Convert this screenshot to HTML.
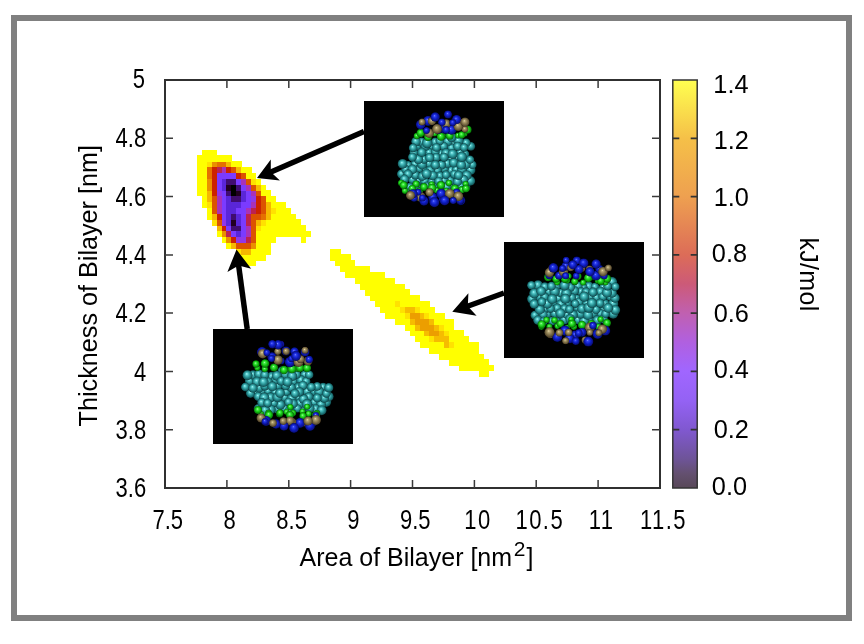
<!DOCTYPE html><html><head><meta charset="utf-8"><style>html,body{margin:0;padding:0;background:#fff;}body{width:864px;height:644px;overflow:hidden;position:relative;}#frame{position:absolute;left:11px;top:15px;width:841px;height:606px;box-sizing:border-box;border:6px solid #808080;}svg{position:absolute;left:0;top:0;will-change:transform;}text{font-family:"Liberation Sans",sans-serif;}</style></head><body><div id="frame"></div><svg width="864" height="644" viewBox="0 0 864 644"><filter id="hb" x="-5%" y="-5%" width="110%" height="110%"><feGaussianBlur stdDeviation="0.45"/></filter><g shape-rendering="crispEdges" filter="url(#hb)"><rect x="478.93" y="371.03" width="10.20" height="6.13" fill="#ffff00"/><rect x="459.13" y="365.20" width="34.95" height="6.13" fill="#ffff00"/><rect x="449.23" y="359.37" width="39.90" height="6.13" fill="#ffff00"/><rect x="439.33" y="353.54" width="44.85" height="6.13" fill="#ffff00"/><rect x="429.43" y="347.71" width="49.80" height="6.13" fill="#ffff00"/><rect x="419.53" y="341.89" width="25.05" height="6.13" fill="#ffff00"/><rect x="444.27" y="341.89" width="5.25" height="6.13" fill="#f6bc00"/><rect x="449.23" y="341.89" width="5.25" height="6.13" fill="#ffe200"/><rect x="454.18" y="341.89" width="25.05" height="6.13" fill="#ffff00"/><rect x="414.57" y="336.06" width="15.15" height="6.13" fill="#ffff00"/><rect x="429.43" y="336.06" width="5.25" height="6.13" fill="#ffe200"/><rect x="434.38" y="336.06" width="15.15" height="6.13" fill="#f6bc00"/><rect x="449.23" y="336.06" width="20.10" height="6.13" fill="#ffff00"/><rect x="409.63" y="330.23" width="15.15" height="6.13" fill="#ffff00"/><rect x="424.47" y="330.23" width="5.25" height="6.13" fill="#f6bc00"/><rect x="429.43" y="330.23" width="10.20" height="6.13" fill="#ec9e00"/><rect x="439.33" y="330.23" width="5.25" height="6.13" fill="#f6bc00"/><rect x="444.27" y="330.23" width="5.25" height="6.13" fill="#ffe200"/><rect x="449.23" y="330.23" width="15.15" height="6.13" fill="#ffff00"/><rect x="404.67" y="324.40" width="10.20" height="6.13" fill="#ffff00"/><rect x="414.57" y="324.40" width="5.25" height="6.13" fill="#f6bc00"/><rect x="419.53" y="324.40" width="15.15" height="6.13" fill="#ec9e00"/><rect x="434.38" y="324.40" width="5.25" height="6.13" fill="#f6bc00"/><rect x="439.33" y="324.40" width="5.25" height="6.13" fill="#ffe200"/><rect x="444.27" y="324.40" width="10.20" height="6.13" fill="#ffff00"/><rect x="394.77" y="318.57" width="15.15" height="6.13" fill="#ffff00"/><rect x="409.63" y="318.57" width="5.25" height="6.13" fill="#f6bc00"/><rect x="414.57" y="318.57" width="15.15" height="6.13" fill="#ec9e00"/><rect x="429.43" y="318.57" width="5.25" height="6.13" fill="#f6bc00"/><rect x="434.38" y="318.57" width="20.10" height="6.13" fill="#ffff00"/><rect x="384.87" y="312.74" width="20.10" height="6.13" fill="#ffff00"/><rect x="404.67" y="312.74" width="5.25" height="6.13" fill="#ffe200"/><rect x="409.63" y="312.74" width="10.20" height="6.13" fill="#ec9e00"/><rect x="419.53" y="312.74" width="5.25" height="6.13" fill="#f6bc00"/><rect x="424.47" y="312.74" width="5.25" height="6.13" fill="#ffe200"/><rect x="429.43" y="312.74" width="15.15" height="6.13" fill="#ffff00"/><rect x="379.93" y="306.91" width="20.10" height="6.13" fill="#ffff00"/><rect x="399.73" y="306.91" width="5.25" height="6.13" fill="#ffe200"/><rect x="404.67" y="306.91" width="10.20" height="6.13" fill="#f6bc00"/><rect x="414.57" y="306.91" width="5.25" height="6.13" fill="#ffe200"/><rect x="419.53" y="306.91" width="15.15" height="6.13" fill="#ffff00"/><rect x="374.98" y="301.09" width="20.10" height="6.13" fill="#ffff00"/><rect x="394.77" y="301.09" width="5.25" height="6.13" fill="#ffe200"/><rect x="399.73" y="301.09" width="30.00" height="6.13" fill="#ffff00"/><rect x="370.03" y="295.26" width="49.80" height="6.13" fill="#ffff00"/><rect x="365.08" y="289.43" width="44.85" height="6.13" fill="#ffff00"/><rect x="360.12" y="283.60" width="44.85" height="6.13" fill="#ffff00"/><rect x="355.18" y="277.77" width="39.90" height="6.13" fill="#ffff00"/><rect x="345.28" y="271.94" width="39.90" height="6.13" fill="#ffff00"/><rect x="340.33" y="266.11" width="30.00" height="6.13" fill="#ffff00"/><rect x="241.33" y="260.29" width="15.15" height="6.13" fill="#ffff00"/><rect x="335.38" y="260.29" width="20.10" height="6.13" fill="#ffff00"/><rect x="236.38" y="254.46" width="30.00" height="6.13" fill="#ffff00"/><rect x="330.43" y="254.46" width="20.10" height="6.13" fill="#ffff00"/><rect x="236.38" y="248.63" width="5.25" height="6.13" fill="#ffe200"/><rect x="241.33" y="248.63" width="10.20" height="6.13" fill="#f6b800"/><rect x="251.22" y="248.63" width="20.10" height="6.13" fill="#ffff00"/><rect x="330.43" y="248.63" width="10.20" height="6.13" fill="#ffff00"/><rect x="226.47" y="242.80" width="5.25" height="6.13" fill="#ffff00"/><rect x="231.43" y="242.80" width="5.25" height="6.13" fill="#f6b800"/><rect x="236.38" y="242.80" width="15.15" height="6.13" fill="#dc5200"/><rect x="251.22" y="242.80" width="5.25" height="6.13" fill="#ea9000"/><rect x="256.18" y="242.80" width="15.15" height="6.13" fill="#ffff00"/><rect x="221.53" y="236.97" width="5.25" height="6.13" fill="#ffff00"/><rect x="226.47" y="236.97" width="5.25" height="6.13" fill="#ea9000"/><rect x="231.43" y="236.97" width="5.25" height="6.13" fill="#cc2200"/><rect x="236.38" y="236.97" width="10.20" height="6.13" fill="#9038e8"/><rect x="246.28" y="236.97" width="5.25" height="6.13" fill="#bc2050"/><rect x="251.22" y="236.97" width="5.25" height="6.13" fill="#dc5200"/><rect x="256.18" y="236.97" width="20.10" height="6.13" fill="#ffff00"/><rect x="300.72" y="236.97" width="5.25" height="6.13" fill="#ffff00"/><rect x="216.57" y="231.14" width="5.25" height="6.13" fill="#ffff00"/><rect x="221.53" y="231.14" width="5.25" height="6.13" fill="#ea9000"/><rect x="226.47" y="231.14" width="5.25" height="6.13" fill="#bc2050"/><rect x="231.43" y="231.14" width="5.25" height="6.13" fill="#7a3aff"/><rect x="236.38" y="231.14" width="5.25" height="6.13" fill="#5a28d8"/><rect x="241.33" y="231.14" width="5.25" height="6.13" fill="#7a3aff"/><rect x="246.28" y="231.14" width="5.25" height="6.13" fill="#a830b8"/><rect x="251.22" y="231.14" width="5.25" height="6.13" fill="#dc5200"/><rect x="256.18" y="231.14" width="54.75" height="6.13" fill="#ffff00"/><rect x="216.57" y="225.31" width="5.25" height="6.13" fill="#f6b800"/><rect x="221.53" y="225.31" width="5.25" height="6.13" fill="#cc2200"/><rect x="226.47" y="225.31" width="5.25" height="6.13" fill="#7a3aff"/><rect x="231.43" y="225.31" width="10.20" height="6.13" fill="#401070"/><rect x="241.33" y="225.31" width="5.25" height="6.13" fill="#7a3aff"/><rect x="246.28" y="225.31" width="5.25" height="6.13" fill="#a830b8"/><rect x="251.22" y="225.31" width="5.25" height="6.13" fill="#dc5200"/><rect x="256.18" y="225.31" width="5.25" height="6.13" fill="#ffe200"/><rect x="261.12" y="225.31" width="44.85" height="6.13" fill="#ffff00"/><rect x="211.62" y="219.49" width="5.25" height="6.13" fill="#ffe200"/><rect x="216.57" y="219.49" width="5.25" height="6.13" fill="#dc5200"/><rect x="221.53" y="219.49" width="5.25" height="6.13" fill="#9038e8"/><rect x="226.47" y="219.49" width="5.25" height="6.13" fill="#5a28d8"/><rect x="231.43" y="219.49" width="5.25" height="6.13" fill="#200020"/><rect x="236.38" y="219.49" width="5.25" height="6.13" fill="#5a28d8"/><rect x="241.33" y="219.49" width="5.25" height="6.13" fill="#7a3aff"/><rect x="246.28" y="219.49" width="5.25" height="6.13" fill="#bc2050"/><rect x="251.22" y="219.49" width="5.25" height="6.13" fill="#dc5200"/><rect x="256.18" y="219.49" width="5.25" height="6.13" fill="#f6b800"/><rect x="261.12" y="219.49" width="5.25" height="6.13" fill="#ffe200"/><rect x="266.08" y="219.49" width="34.95" height="6.13" fill="#ffff00"/><rect x="206.67" y="213.66" width="5.25" height="6.13" fill="#ffff00"/><rect x="211.62" y="213.66" width="5.25" height="6.13" fill="#f6b800"/><rect x="216.57" y="213.66" width="5.25" height="6.13" fill="#cc2200"/><rect x="221.53" y="213.66" width="5.25" height="6.13" fill="#7a3aff"/><rect x="226.47" y="213.66" width="5.25" height="6.13" fill="#5a28d8"/><rect x="231.43" y="213.66" width="5.25" height="6.13" fill="#401070"/><rect x="236.38" y="213.66" width="5.25" height="6.13" fill="#5a28d8"/><rect x="241.33" y="213.66" width="5.25" height="6.13" fill="#7a3aff"/><rect x="246.28" y="213.66" width="5.25" height="6.13" fill="#bc2050"/><rect x="251.22" y="213.66" width="10.20" height="6.13" fill="#dc5200"/><rect x="261.12" y="213.66" width="5.25" height="6.13" fill="#e57000"/><rect x="266.08" y="213.66" width="5.25" height="6.13" fill="#f6b800"/><rect x="271.02" y="213.66" width="25.05" height="6.13" fill="#ffff00"/><rect x="206.67" y="207.83" width="5.25" height="6.13" fill="#ffff00"/><rect x="211.62" y="207.83" width="5.25" height="6.13" fill="#dc5200"/><rect x="216.57" y="207.83" width="5.25" height="6.13" fill="#a830b8"/><rect x="221.53" y="207.83" width="5.25" height="6.13" fill="#7a3aff"/><rect x="226.47" y="207.83" width="10.20" height="6.13" fill="#5a28d8"/><rect x="236.38" y="207.83" width="10.20" height="6.13" fill="#7a3aff"/><rect x="246.28" y="207.83" width="5.25" height="6.13" fill="#a830b8"/><rect x="251.22" y="207.83" width="5.25" height="6.13" fill="#bc2050"/><rect x="256.18" y="207.83" width="5.25" height="6.13" fill="#cc2200"/><rect x="261.12" y="207.83" width="5.25" height="6.13" fill="#dc5200"/><rect x="266.08" y="207.83" width="5.25" height="6.13" fill="#f6b800"/><rect x="271.02" y="207.83" width="5.25" height="6.13" fill="#ffe200"/><rect x="275.98" y="207.83" width="15.15" height="6.13" fill="#ffff00"/><rect x="201.72" y="202.00" width="5.25" height="6.13" fill="#ffff00"/><rect x="206.67" y="202.00" width="5.25" height="6.13" fill="#ffe200"/><rect x="211.62" y="202.00" width="5.25" height="6.13" fill="#dc5200"/><rect x="216.57" y="202.00" width="5.25" height="6.13" fill="#a830b8"/><rect x="221.53" y="202.00" width="5.25" height="6.13" fill="#7a3aff"/><rect x="226.47" y="202.00" width="15.15" height="6.13" fill="#5a28d8"/><rect x="241.33" y="202.00" width="10.20" height="6.13" fill="#7a3aff"/><rect x="251.22" y="202.00" width="5.25" height="6.13" fill="#a830b8"/><rect x="256.18" y="202.00" width="5.25" height="6.13" fill="#cc2200"/><rect x="261.12" y="202.00" width="5.25" height="6.13" fill="#dc5200"/><rect x="266.08" y="202.00" width="5.25" height="6.13" fill="#f6b800"/><rect x="271.02" y="202.00" width="15.15" height="6.13" fill="#ffff00"/><rect x="201.72" y="196.17" width="5.25" height="6.13" fill="#ffff00"/><rect x="206.67" y="196.17" width="5.25" height="6.13" fill="#f6b800"/><rect x="211.62" y="196.17" width="5.25" height="6.13" fill="#dc5200"/><rect x="216.57" y="196.17" width="5.25" height="6.13" fill="#a830b8"/><rect x="221.53" y="196.17" width="5.25" height="6.13" fill="#7a3aff"/><rect x="226.47" y="196.17" width="5.25" height="6.13" fill="#5a28d8"/><rect x="231.43" y="196.17" width="10.20" height="6.13" fill="#401070"/><rect x="241.33" y="196.17" width="5.25" height="6.13" fill="#5a28d8"/><rect x="246.28" y="196.17" width="5.25" height="6.13" fill="#7a3aff"/><rect x="251.22" y="196.17" width="5.25" height="6.13" fill="#9038e8"/><rect x="256.18" y="196.17" width="5.25" height="6.13" fill="#cc2200"/><rect x="261.12" y="196.17" width="5.25" height="6.13" fill="#dc5200"/><rect x="266.08" y="196.17" width="10.20" height="6.13" fill="#ffff00"/><rect x="196.77" y="190.34" width="10.20" height="6.13" fill="#ffff00"/><rect x="206.67" y="190.34" width="5.25" height="6.13" fill="#f6b800"/><rect x="211.62" y="190.34" width="5.25" height="6.13" fill="#cc2200"/><rect x="216.57" y="190.34" width="5.25" height="6.13" fill="#9038e8"/><rect x="221.53" y="190.34" width="5.25" height="6.13" fill="#7a3aff"/><rect x="226.47" y="190.34" width="5.25" height="6.13" fill="#401070"/><rect x="231.43" y="190.34" width="5.25" height="6.13" fill="#000000"/><rect x="236.38" y="190.34" width="5.25" height="6.13" fill="#200020"/><rect x="241.33" y="190.34" width="5.25" height="6.13" fill="#5a28d8"/><rect x="246.28" y="190.34" width="5.25" height="6.13" fill="#7a3aff"/><rect x="251.22" y="190.34" width="5.25" height="6.13" fill="#a830b8"/><rect x="256.18" y="190.34" width="5.25" height="6.13" fill="#dc5200"/><rect x="261.12" y="190.34" width="10.20" height="6.13" fill="#ffff00"/><rect x="196.77" y="184.51" width="10.20" height="6.13" fill="#ffff00"/><rect x="206.67" y="184.51" width="5.25" height="6.13" fill="#ea9000"/><rect x="211.62" y="184.51" width="5.25" height="6.13" fill="#cc2200"/><rect x="216.57" y="184.51" width="5.25" height="6.13" fill="#7a3aff"/><rect x="221.53" y="184.51" width="5.25" height="6.13" fill="#5a28d8"/><rect x="226.47" y="184.51" width="5.25" height="6.13" fill="#200020"/><rect x="231.43" y="184.51" width="5.25" height="6.13" fill="#000000"/><rect x="236.38" y="184.51" width="5.25" height="6.13" fill="#401070"/><rect x="241.33" y="184.51" width="5.25" height="6.13" fill="#7a3aff"/><rect x="246.28" y="184.51" width="5.25" height="6.13" fill="#a830b8"/><rect x="251.22" y="184.51" width="5.25" height="6.13" fill="#dc5200"/><rect x="256.18" y="184.51" width="5.25" height="6.13" fill="#f6b800"/><rect x="261.12" y="184.51" width="5.25" height="6.13" fill="#ffff00"/><rect x="196.77" y="178.69" width="10.20" height="6.13" fill="#ffff00"/><rect x="206.67" y="178.69" width="5.25" height="6.13" fill="#ea9000"/><rect x="211.62" y="178.69" width="5.25" height="6.13" fill="#cc2200"/><rect x="216.57" y="178.69" width="5.25" height="6.13" fill="#7a3aff"/><rect x="221.53" y="178.69" width="5.25" height="6.13" fill="#5a28d8"/><rect x="226.47" y="178.69" width="10.20" height="6.13" fill="#401070"/><rect x="236.38" y="178.69" width="5.25" height="6.13" fill="#7a3aff"/><rect x="241.33" y="178.69" width="5.25" height="6.13" fill="#a830b8"/><rect x="246.28" y="178.69" width="5.25" height="6.13" fill="#dc5200"/><rect x="251.22" y="178.69" width="5.25" height="6.13" fill="#ffe200"/><rect x="256.18" y="178.69" width="5.25" height="6.13" fill="#ffff00"/><rect x="196.77" y="172.86" width="10.20" height="6.13" fill="#ffff00"/><rect x="206.67" y="172.86" width="5.25" height="6.13" fill="#e57000"/><rect x="211.62" y="172.86" width="5.25" height="6.13" fill="#cc2200"/><rect x="216.57" y="172.86" width="20.10" height="6.13" fill="#7a3aff"/><rect x="236.38" y="172.86" width="5.25" height="6.13" fill="#cc2200"/><rect x="241.33" y="172.86" width="5.25" height="6.13" fill="#dc5200"/><rect x="246.28" y="172.86" width="10.20" height="6.13" fill="#ffff00"/><rect x="196.77" y="167.03" width="10.20" height="6.13" fill="#ffff00"/><rect x="206.67" y="167.03" width="5.25" height="6.13" fill="#e57000"/><rect x="211.62" y="167.03" width="5.25" height="6.13" fill="#cc2200"/><rect x="216.57" y="167.03" width="5.25" height="6.13" fill="#bc2050"/><rect x="221.53" y="167.03" width="5.25" height="6.13" fill="#a830b8"/><rect x="226.47" y="167.03" width="5.25" height="6.13" fill="#cc2200"/><rect x="231.43" y="167.03" width="5.25" height="6.13" fill="#dc5200"/><rect x="236.38" y="167.03" width="5.25" height="6.13" fill="#f6b800"/><rect x="241.33" y="167.03" width="10.20" height="6.13" fill="#ffff00"/><rect x="196.77" y="161.20" width="10.20" height="6.13" fill="#ffff00"/><rect x="206.67" y="161.20" width="5.25" height="6.13" fill="#ffe200"/><rect x="211.62" y="161.20" width="5.25" height="6.13" fill="#ea9000"/><rect x="216.57" y="161.20" width="10.20" height="6.13" fill="#e57000"/><rect x="226.47" y="161.20" width="5.25" height="6.13" fill="#f6b800"/><rect x="231.43" y="161.20" width="10.20" height="6.13" fill="#ffff00"/><rect x="196.77" y="155.37" width="34.95" height="6.13" fill="#ffff00"/><rect x="201.72" y="149.54" width="15.15" height="6.13" fill="#ffff00"/></g><rect x="165.0" y="80.0" width="495.0" height="408.0" fill="none" stroke="#303030" stroke-width="2"/><path d="M165.0,429.7h8M660.0,429.7h-8M165.0,371.4h8M660.0,371.4h-8M165.0,313.1h8M660.0,313.1h-8M165.0,254.9h8M660.0,254.9h-8M165.0,196.6h8M660.0,196.6h-8M165.0,138.3h8M660.0,138.3h-8M226.9,488.0v-8M226.9,80.0v8M288.8,488.0v-8M288.8,80.0v8M350.6,488.0v-8M350.6,80.0v8M412.5,488.0v-8M412.5,80.0v8M474.4,488.0v-8M474.4,80.0v8M536.2,488.0v-8M536.2,80.0v8M598.1,488.0v-8M598.1,80.0v8" stroke="#3a3a3a" stroke-width="1.5" fill="none"/><text x="0" y="0" transform="translate(146.2,497.1) scale(0.80,1)" text-anchor="end" font-size="27.5">3.6</text><text x="0" y="0" transform="translate(146.2,438.8) scale(0.80,1)" text-anchor="end" font-size="27.5">3.8</text><text x="0" y="0" transform="translate(146.2,380.5) scale(0.80,1)" text-anchor="end" font-size="27.5">4</text><text x="0" y="0" transform="translate(146.2,322.2) scale(0.80,1)" text-anchor="end" font-size="27.5">4.2</text><text x="0" y="0" transform="translate(146.2,264.0) scale(0.80,1)" text-anchor="end" font-size="27.5">4.4</text><text x="0" y="0" transform="translate(146.2,205.7) scale(0.80,1)" text-anchor="end" font-size="27.5">4.6</text><text x="0" y="0" transform="translate(146.2,147.4) scale(0.80,1)" text-anchor="end" font-size="27.5">4.8</text><text x="0" y="0" transform="translate(145.0,87.8) scale(0.80,1)" text-anchor="end" font-size="27.5">5</text><text x="0" y="0" transform="translate(167.8,529.0) scale(0.80,1)" text-anchor="middle" font-size="27.5">7.5</text><text x="0" y="0" transform="translate(229.7,529.0) scale(0.80,1)" text-anchor="middle" font-size="27.5">8</text><text x="0" y="0" transform="translate(291.6,529.0) scale(0.80,1)" text-anchor="middle" font-size="27.5">8.5</text><text x="0" y="0" transform="translate(353.4,529.0) scale(0.80,1)" text-anchor="middle" font-size="27.5">9</text><text x="0" y="0" transform="translate(415.3,529.0) scale(0.80,1)" text-anchor="middle" font-size="27.5">9.5</text><text x="0" y="0" transform="translate(477.9,529.0) scale(0.80,1)" text-anchor="middle" font-size="27.5" letter-spacing="1.8">10</text><text x="0" y="0" transform="translate(539.8,529.0) scale(0.80,1)" text-anchor="middle" font-size="27.5" letter-spacing="1.8">10.5</text><text x="0" y="0" transform="translate(601.6,529.0) scale(0.80,1)" text-anchor="middle" font-size="27.5" letter-spacing="1.8">11</text><text x="0" y="0" transform="translate(663.5,529.0) scale(0.80,1)" text-anchor="middle" font-size="27.5" letter-spacing="1.8">11.5</text><text x="0" y="0" transform="translate(97.4,426.4) rotate(-90)" font-size="25.2">Thickness of Bilayer [nm]</text><text x="299.5" y="565.8" font-size="25">Area of Bilayer [nm<tspan font-size="21" dx="1.6" dy="-9.8">2</tspan><tspan dx="1.2" dy="9.8">]</tspan></text><text x="0" y="0" transform="translate(800,237.5) rotate(90)" font-size="25" letter-spacing="0.3">kJ/mol</text><defs><linearGradient id="cb" x1="0" y1="1" x2="0" y2="0"><stop offset="0" stop-color="#584858"/><stop offset="0.036" stop-color="#645070"/><stop offset="0.071" stop-color="#6e5498"/><stop offset="0.143" stop-color="#8058d0"/><stop offset="0.214" stop-color="#9462f4"/><stop offset="0.286" stop-color="#a066ff"/><stop offset="0.357" stop-color="#b060e0"/><stop offset="0.429" stop-color="#c060b0"/><stop offset="0.5" stop-color="#cc5a78"/><stop offset="0.571" stop-color="#dc6c58"/><stop offset="0.714" stop-color="#eea050"/><stop offset="0.857" stop-color="#f5c048"/><stop offset="1" stop-color="#ffff50"/></linearGradient></defs><rect x="672.8" y="80.0" width="24.4" height="408.0" fill="url(#cb)" stroke="#333" stroke-width="1.5"/><path d="M672.8,429.7h6.5M697.2,429.7h-6.5M672.8,371.4h6.5M697.2,371.4h-6.5M672.8,313.1h6.5M697.2,313.1h-6.5M672.8,254.9h6.5M697.2,254.9h-6.5M672.8,196.6h6.5M697.2,196.6h-6.5M672.8,138.3h6.5M697.2,138.3h-6.5" stroke="#333" stroke-width="1.8"/><text x="747.0" y="494.5" text-anchor="end" font-size="25.3">0.0</text><text x="748.8" y="438.2" text-anchor="end" font-size="25.3">0.2</text><text x="748.8" y="377.8" text-anchor="end" font-size="25.3">0.4</text><text x="748.8" y="321.8" text-anchor="end" font-size="25.3">0.6</text><text x="747.0" y="262.0" text-anchor="end" font-size="25.3">0.8</text><text x="748.8" y="205.7" text-anchor="end" font-size="25.3">1.0</text><text x="748.8" y="149.1" text-anchor="end" font-size="25.3">1.2</text><text x="748.5" y="92.6" text-anchor="end" font-size="25.3">1.4</text><defs><radialGradient id="sc" cx="0.5" cy="0.5" r="0.55" fx="0.42" fy="0.36"><stop offset="0" stop-color="#b8ffff"/><stop offset="0.2" stop-color="#5ccfd0"/><stop offset="0.5" stop-color="#2e9a9c"/><stop offset="0.8" stop-color="#166266"/><stop offset="1" stop-color="#052224"/></radialGradient><radialGradient id="sb" cx="0.5" cy="0.5" r="0.55" fx="0.42" fy="0.36"><stop offset="0" stop-color="#8090ff"/><stop offset="0.18" stop-color="#3040f0"/><stop offset="0.5" stop-color="#1020c8"/><stop offset="0.82" stop-color="#081080"/><stop offset="1" stop-color="#000430"/></radialGradient><radialGradient id="st" cx="0.5" cy="0.5" r="0.55" fx="0.42" fy="0.36"><stop offset="0" stop-color="#f0e0b0"/><stop offset="0.18" stop-color="#b8a878"/><stop offset="0.5" stop-color="#8a7a50"/><stop offset="0.82" stop-color="#5a4c30"/><stop offset="1" stop-color="#201808"/></radialGradient><radialGradient id="sg" cx="0.5" cy="0.5" r="0.55" fx="0.42" fy="0.36"><stop offset="0" stop-color="#c0ffc0"/><stop offset="0.18" stop-color="#50f050"/><stop offset="0.5" stop-color="#18cc18"/><stop offset="0.82" stop-color="#088008"/><stop offset="1" stop-color="#003000"/></radialGradient><filter id="mb" x="-10%" y="-10%" width="120%" height="120%"><feGaussianBlur stdDeviation="0.5"/></filter></defs><rect x="364" y="101" width="140" height="116" fill="#000"/><g filter="url(#mb)"><circle cx="424.0" cy="169.9" r="4.3" fill="url(#sc)"/><circle cx="422.4" cy="185.7" r="4.2" fill="url(#sc)"/><circle cx="451.1" cy="170.6" r="5.0" fill="url(#sc)"/><circle cx="457.1" cy="158.5" r="4.3" fill="url(#sc)"/><circle cx="456.3" cy="169.6" r="4.5" fill="url(#sc)"/><circle cx="417.8" cy="181.1" r="4.7" fill="url(#sc)"/><circle cx="415.1" cy="164.5" r="5.1" fill="url(#sc)"/><circle cx="441.7" cy="153.6" r="4.4" fill="url(#sc)"/><circle cx="451.3" cy="159.6" r="4.8" fill="url(#sc)"/><circle cx="444.3" cy="168.6" r="4.6" fill="url(#sc)"/><circle cx="419.4" cy="168.7" r="4.1" fill="url(#sc)"/><circle cx="447.3" cy="163.5" r="4.7" fill="url(#sc)"/><circle cx="464.9" cy="154.0" r="4.4" fill="url(#sc)"/><circle cx="470.4" cy="170.0" r="5.1" fill="url(#sc)"/><circle cx="472.4" cy="164.8" r="4.2" fill="url(#sc)"/><circle cx="430.9" cy="146.3" r="4.9" fill="url(#sc)"/><circle cx="429.0" cy="163.4" r="4.8" fill="url(#sc)"/><circle cx="466.2" cy="187.4" r="4.2" fill="url(#sc)"/><circle cx="452.4" cy="186.2" r="4.9" fill="url(#sc)"/><circle cx="429.1" cy="152.7" r="4.7" fill="url(#sc)"/><circle cx="449.9" cy="180.7" r="5.0" fill="url(#sc)"/><circle cx="453.7" cy="162.7" r="4.8" fill="url(#sc)"/><circle cx="470.3" cy="180.9" r="4.9" fill="url(#sc)"/><circle cx="424.9" cy="181.3" r="4.5" fill="url(#sc)"/><circle cx="470.8" cy="146.3" r="4.4" fill="url(#sc)"/><circle cx="453.1" cy="142.9" r="5.0" fill="url(#sc)"/><circle cx="417.5" cy="146.0" r="4.2" fill="url(#sc)"/><circle cx="435.2" cy="151.8" r="4.3" fill="url(#sc)"/><circle cx="462.0" cy="169.4" r="5.0" fill="url(#sc)"/><circle cx="441.4" cy="164.9" r="4.7" fill="url(#sc)"/><circle cx="466.6" cy="175.4" r="5.0" fill="url(#sc)"/><circle cx="443.7" cy="180.9" r="5.1" fill="url(#sc)"/><circle cx="427.6" cy="186.3" r="4.9" fill="url(#sc)"/><circle cx="466.1" cy="142.9" r="4.5" fill="url(#sc)"/><circle cx="422.1" cy="164.4" r="5.0" fill="url(#sc)"/><circle cx="421.4" cy="142.0" r="4.6" fill="url(#sc)"/><circle cx="408.1" cy="165.2" r="4.2" fill="url(#sc)"/><circle cx="465.9" cy="164.5" r="4.7" fill="url(#sc)"/><circle cx="451.5" cy="148.0" r="4.5" fill="url(#sc)"/><circle cx="416.0" cy="141.6" r="4.8" fill="url(#sc)"/><circle cx="415.8" cy="185.6" r="5.1" fill="url(#sc)"/><circle cx="437.2" cy="170.5" r="4.5" fill="url(#sc)"/><circle cx="425.4" cy="146.2" r="4.7" fill="url(#sc)"/><circle cx="447.7" cy="141.3" r="5.0" fill="url(#sc)"/><circle cx="413.9" cy="152.9" r="4.4" fill="url(#sc)"/><circle cx="436.2" cy="157.4" r="4.5" fill="url(#sc)"/><circle cx="430.1" cy="170.5" r="4.8" fill="url(#sc)"/><circle cx="460.1" cy="152.5" r="4.2" fill="url(#sc)"/><circle cx="446.5" cy="186.9" r="4.3" fill="url(#sc)"/><circle cx="458.4" cy="140.8" r="5.1" fill="url(#sc)"/><circle cx="424.0" cy="159.4" r="4.3" fill="url(#sc)"/><circle cx="418.4" cy="159.3" r="4.8" fill="url(#sc)"/><circle cx="454.3" cy="174.2" r="4.3" fill="url(#sc)"/><circle cx="457.7" cy="146.3" r="4.5" fill="url(#sc)"/><circle cx="412.4" cy="179.6" r="4.4" fill="url(#sc)"/><circle cx="434.2" cy="184.8" r="5.0" fill="url(#sc)"/><circle cx="463.4" cy="179.7" r="4.9" fill="url(#sc)"/><circle cx="412.4" cy="157.1" r="4.4" fill="url(#sc)"/><circle cx="431.8" cy="181.7" r="4.2" fill="url(#sc)"/><circle cx="435.2" cy="142.1" r="4.5" fill="url(#sc)"/><circle cx="413.1" cy="147.9" r="4.3" fill="url(#sc)"/><circle cx="435.3" cy="164.9" r="4.6" fill="url(#sc)"/><circle cx="439.4" cy="187.0" r="4.3" fill="url(#sc)"/><circle cx="401.6" cy="174.0" r="4.6" fill="url(#sc)"/><circle cx="443.6" cy="146.3" r="4.4" fill="url(#sc)"/><circle cx="405.7" cy="169.4" r="4.4" fill="url(#sc)"/><circle cx="439.8" cy="141.0" r="4.2" fill="url(#sc)"/><circle cx="427.2" cy="143.0" r="5.2" fill="url(#sc)"/><circle cx="409.9" cy="187.4" r="4.7" fill="url(#sc)"/><circle cx="451.6" cy="137.3" r="4.8" fill="url(#sc)"/><circle cx="415.4" cy="175.0" r="4.5" fill="url(#sc)"/><circle cx="436.4" cy="147.5" r="4.3" fill="url(#sc)"/><circle cx="440.1" cy="175.8" r="4.2" fill="url(#sc)"/><circle cx="412.4" cy="169.4" r="4.8" fill="url(#sc)"/><circle cx="446.1" cy="153.4" r="5.1" fill="url(#sc)"/><circle cx="408.0" cy="174.2" r="4.6" fill="url(#sc)"/><circle cx="404.5" cy="179.2" r="4.6" fill="url(#sc)"/><circle cx="444.0" cy="157.2" r="4.5" fill="url(#sc)"/><circle cx="432.9" cy="175.6" r="4.7" fill="url(#sc)"/><circle cx="446.0" cy="174.8" r="4.2" fill="url(#sc)"/><circle cx="464.0" cy="147.5" r="4.2" fill="url(#sc)"/><circle cx="470.0" cy="159.6" r="4.2" fill="url(#sc)"/><circle cx="452.6" cy="154.0" r="5.0" fill="url(#sc)"/><circle cx="438.6" cy="181.2" r="4.3" fill="url(#sc)"/><circle cx="461.2" cy="164.9" r="4.9" fill="url(#sc)"/><circle cx="402.6" cy="163.8" r="4.9" fill="url(#sc)"/><circle cx="429.6" cy="157.6" r="4.6" fill="url(#sc)"/><circle cx="460.8" cy="186.6" r="5.1" fill="url(#sc)"/><circle cx="422.3" cy="176.3" r="4.6" fill="url(#sc)"/><circle cx="426.6" cy="173.7" r="5.0" fill="url(#sc)"/><circle cx="421.7" cy="152.3" r="4.6" fill="url(#sc)"/><circle cx="457.4" cy="181.8" r="4.6" fill="url(#sc)"/><circle cx="458.5" cy="175.3" r="4.6" fill="url(#sc)"/><circle cx="461.7" cy="156.9" r="5.1" fill="url(#sc)"/><circle cx="453.2" cy="129.5" r="3.5" fill="url(#sg)"/><circle cx="416.8" cy="136.0" r="3.2" fill="url(#sg)"/><circle cx="426.9" cy="133.8" r="3.2" fill="url(#sg)"/><circle cx="434.6" cy="133.5" r="3.0" fill="url(#sg)"/><circle cx="442.5" cy="136.2" r="3.6" fill="url(#sg)"/><circle cx="448.8" cy="135.0" r="3.5" fill="url(#sg)"/><circle cx="458.0" cy="135.5" r="3.0" fill="url(#sg)"/><circle cx="464.7" cy="133.8" r="2.9" fill="url(#sg)"/><circle cx="401.2" cy="183.0" r="3.3" fill="url(#sg)"/><circle cx="416.1" cy="184.0" r="3.6" fill="url(#sg)"/><circle cx="431.7" cy="184.4" r="3.2" fill="url(#sg)"/><circle cx="448.9" cy="183.0" r="3.2" fill="url(#sg)"/><circle cx="465.6" cy="184.0" r="3.0" fill="url(#sg)"/><circle cx="404.9" cy="190.7" r="3.2" fill="url(#sg)"/><circle cx="412.1" cy="189.0" r="3.3" fill="url(#sg)"/><circle cx="419.5" cy="191.1" r="3.5" fill="url(#sg)"/><circle cx="429.6" cy="191.0" r="3.4" fill="url(#sg)"/><circle cx="436.7" cy="190.3" r="3.3" fill="url(#sg)"/><circle cx="446.4" cy="190.9" r="3.1" fill="url(#sg)"/><circle cx="454.2" cy="190.7" r="3.5" fill="url(#sg)"/><circle cx="461.9" cy="189.7" r="3.6" fill="url(#sg)"/><circle cx="420.7" cy="133.0" r="4.2" fill="url(#sg)"/><circle cx="441.0" cy="136.6" r="4.2" fill="url(#sg)"/><circle cx="449.7" cy="135.7" r="3.9" fill="url(#sg)"/><circle cx="467.6" cy="129.7" r="4.1" fill="url(#sg)"/><circle cx="461.7" cy="134.9" r="3.7" fill="url(#sg)"/><circle cx="428.0" cy="137.0" r="3.9" fill="url(#sg)"/><circle cx="403.7" cy="185.2" r="4.0" fill="url(#sg)"/><circle cx="412.2" cy="188.6" r="3.7" fill="url(#sg)"/><circle cx="424.0" cy="187.0" r="3.9" fill="url(#sg)"/><circle cx="441.0" cy="185.2" r="4.1" fill="url(#sg)"/><circle cx="454.8" cy="188.6" r="4.1" fill="url(#sg)"/><circle cx="466.0" cy="188.6" r="3.8" fill="url(#sg)"/><circle cx="432.0" cy="188.0" r="4.3" fill="url(#sg)"/><circle cx="429.2" cy="133.2" r="4.7" fill="url(#st)"/><circle cx="420.7" cy="197.0" r="4.9" fill="url(#st)"/><circle cx="442.5" cy="199.0" r="3.8" fill="url(#sb)"/><circle cx="456.6" cy="192.3" r="3.7" fill="url(#sb)"/><circle cx="424.0" cy="201.0" r="4.7" fill="url(#sb)"/><circle cx="461.0" cy="123.0" r="4.1" fill="url(#st)"/><circle cx="428.0" cy="121.0" r="5.1" fill="url(#sb)"/><circle cx="444.6" cy="128.9" r="4.7" fill="url(#sb)"/><circle cx="448.0" cy="114.4" r="4.0" fill="url(#sb)"/><circle cx="464.9" cy="129.1" r="3.4" fill="url(#st)"/><circle cx="432.6" cy="199.8" r="3.6" fill="url(#sb)"/><circle cx="431.9" cy="121.1" r="4.1" fill="url(#st)"/><circle cx="432.7" cy="197.0" r="4.5" fill="url(#sb)"/><circle cx="451.4" cy="129.7" r="5.0" fill="url(#sb)"/><circle cx="420.7" cy="124.6" r="4.8" fill="url(#sb)"/><circle cx="446.3" cy="123.8" r="4.5" fill="url(#st)"/><circle cx="460.8" cy="200.6" r="4.6" fill="url(#sb)"/><circle cx="438.3" cy="130.3" r="3.8" fill="url(#sb)"/><circle cx="441.2" cy="193.7" r="5.0" fill="url(#sb)"/><circle cx="435.2" cy="117.0" r="4.7" fill="url(#sb)"/><circle cx="426.5" cy="130.5" r="3.4" fill="url(#sb)"/><circle cx="458.3" cy="126.3" r="4.8" fill="url(#st)"/><circle cx="456.6" cy="119.5" r="4.6" fill="url(#sb)"/><circle cx="452.7" cy="122.7" r="3.4" fill="url(#sb)"/><circle cx="449.7" cy="193.7" r="4.8" fill="url(#st)"/><circle cx="446.1" cy="129.9" r="3.8" fill="url(#sb)"/><circle cx="422.0" cy="122.0" r="3.5" fill="url(#st)"/><circle cx="460.1" cy="200.4" r="3.9" fill="url(#sb)"/><circle cx="418.2" cy="192.2" r="3.4" fill="url(#sb)"/><circle cx="414.1" cy="198.1" r="3.7" fill="url(#sb)"/><circle cx="413.0" cy="193.7" r="4.5" fill="url(#sb)"/><circle cx="444.6" cy="200.6" r="4.9" fill="url(#sb)"/><circle cx="458.3" cy="196.3" r="4.9" fill="url(#st)"/><circle cx="441.9" cy="122.3" r="3.8" fill="url(#sb)"/><circle cx="429.5" cy="192.3" r="4.1" fill="url(#st)"/><circle cx="437.0" cy="129.0" r="4.9" fill="url(#st)"/><circle cx="434.4" cy="202.3" r="5.0" fill="url(#sb)"/><circle cx="465.0" cy="122.0" r="4.5" fill="url(#st)"/><circle cx="422.4" cy="197.9" r="3.4" fill="url(#sb)"/><circle cx="410.5" cy="195.4" r="4.5" fill="url(#st)"/><circle cx="453.2" cy="200.6" r="3.5" fill="url(#sb)"/></g><rect x="504" y="242" width="140" height="116" fill="#000"/><g filter="url(#mb)"><circle cx="554.4" cy="302.0" r="4.6" fill="url(#sc)"/><circle cx="577.9" cy="319.8" r="4.6" fill="url(#sc)"/><circle cx="547.3" cy="313.9" r="4.6" fill="url(#sc)"/><circle cx="588.8" cy="286.5" r="5.0" fill="url(#sc)"/><circle cx="554.8" cy="313.6" r="4.5" fill="url(#sc)"/><circle cx="610.2" cy="296.7" r="4.3" fill="url(#sc)"/><circle cx="576.8" cy="298.8" r="4.6" fill="url(#sc)"/><circle cx="612.1" cy="282.0" r="5.0" fill="url(#sc)"/><circle cx="579.0" cy="302.3" r="4.8" fill="url(#sc)"/><circle cx="583.0" cy="287.4" r="4.5" fill="url(#sc)"/><circle cx="603.5" cy="310.0" r="4.3" fill="url(#sc)"/><circle cx="600.2" cy="313.4" r="4.6" fill="url(#sc)"/><circle cx="588.8" cy="320.7" r="5.0" fill="url(#sc)"/><circle cx="603.3" cy="287.9" r="4.5" fill="url(#sc)"/><circle cx="578.1" cy="286.1" r="4.6" fill="url(#sc)"/><circle cx="613.2" cy="313.8" r="5.0" fill="url(#sc)"/><circle cx="539.4" cy="296.6" r="5.0" fill="url(#sc)"/><circle cx="587.1" cy="304.0" r="4.9" fill="url(#sc)"/><circle cx="581.0" cy="291.6" r="4.3" fill="url(#sc)"/><circle cx="534.9" cy="315.2" r="4.4" fill="url(#sc)"/><circle cx="603.3" cy="319.0" r="4.6" fill="url(#sc)"/><circle cx="556.7" cy="286.0" r="4.2" fill="url(#sc)"/><circle cx="545.7" cy="309.0" r="4.2" fill="url(#sc)"/><circle cx="593.2" cy="313.1" r="4.8" fill="url(#sc)"/><circle cx="548.7" cy="291.6" r="4.5" fill="url(#sc)"/><circle cx="595.0" cy="286.9" r="4.2" fill="url(#sc)"/><circle cx="574.5" cy="290.8" r="4.6" fill="url(#sc)"/><circle cx="604.7" cy="304.0" r="5.0" fill="url(#sc)"/><circle cx="586.2" cy="292.4" r="4.8" fill="url(#sc)"/><circle cx="538.0" cy="285.2" r="5.0" fill="url(#sc)"/><circle cx="596.0" cy="309.6" r="4.5" fill="url(#sc)"/><circle cx="571.7" cy="297.6" r="4.4" fill="url(#sc)"/><circle cx="613.2" cy="303.9" r="5.1" fill="url(#sc)"/><circle cx="566.9" cy="303.0" r="4.7" fill="url(#sc)"/><circle cx="615.0" cy="298.0" r="4.7" fill="url(#sc)"/><circle cx="584.2" cy="321.2" r="5.2" fill="url(#sc)"/><circle cx="556.8" cy="321.2" r="4.1" fill="url(#sc)"/><circle cx="544.7" cy="296.9" r="4.3" fill="url(#sc)"/><circle cx="577.4" cy="307.9" r="4.3" fill="url(#sc)"/><circle cx="600.5" cy="291.9" r="5.1" fill="url(#sc)"/><circle cx="558.6" cy="298.5" r="4.2" fill="url(#sc)"/><circle cx="580.4" cy="313.6" r="5.1" fill="url(#sc)"/><circle cx="531.9" cy="299.0" r="4.8" fill="url(#sc)"/><circle cx="570.4" cy="287.2" r="4.6" fill="url(#sc)"/><circle cx="597.3" cy="320.3" r="4.8" fill="url(#sc)"/><circle cx="552.1" cy="321.1" r="4.5" fill="url(#sc)"/><circle cx="590.7" cy="296.7" r="4.9" fill="url(#sc)"/><circle cx="560.9" cy="292.8" r="4.4" fill="url(#sc)"/><circle cx="575.2" cy="303.7" r="4.2" fill="url(#sc)"/><circle cx="543.2" cy="314.5" r="4.4" fill="url(#sc)"/><circle cx="596.5" cy="297.7" r="4.2" fill="url(#sc)"/><circle cx="592.9" cy="292.2" r="4.6" fill="url(#sc)"/><circle cx="605.6" cy="313.9" r="4.2" fill="url(#sc)"/><circle cx="612.3" cy="293.1" r="4.6" fill="url(#sc)"/><circle cx="602.8" cy="296.8" r="4.3" fill="url(#sc)"/><circle cx="561.0" cy="304.5" r="5.1" fill="url(#sc)"/><circle cx="537.9" cy="320.2" r="4.7" fill="url(#sc)"/><circle cx="544.8" cy="286.8" r="4.5" fill="url(#sc)"/><circle cx="557.3" cy="308.2" r="4.6" fill="url(#sc)"/><circle cx="566.4" cy="293.3" r="5.1" fill="url(#sc)"/><circle cx="531.4" cy="285.3" r="4.3" fill="url(#sc)"/><circle cx="550.5" cy="308.5" r="4.2" fill="url(#sc)"/><circle cx="607.0" cy="292.5" r="5.1" fill="url(#sc)"/><circle cx="615.4" cy="310.0" r="4.8" fill="url(#sc)"/><circle cx="564.7" cy="319.6" r="4.9" fill="url(#sc)"/><circle cx="615.3" cy="286.7" r="4.2" fill="url(#sc)"/><circle cx="534.3" cy="293.3" r="5.1" fill="url(#sc)"/><circle cx="539.8" cy="309.5" r="5.1" fill="url(#sc)"/><circle cx="566.7" cy="314.5" r="4.4" fill="url(#sc)"/><circle cx="564.6" cy="308.7" r="4.5" fill="url(#sc)"/><circle cx="582.1" cy="308.7" r="4.9" fill="url(#sc)"/><circle cx="584.2" cy="296.7" r="5.1" fill="url(#sc)"/><circle cx="573.1" cy="314.7" r="4.7" fill="url(#sc)"/><circle cx="570.2" cy="319.0" r="4.8" fill="url(#sc)"/><circle cx="600.0" cy="303.2" r="4.4" fill="url(#sc)"/><circle cx="547.3" cy="303.8" r="4.9" fill="url(#sc)"/><circle cx="569.5" cy="309.2" r="4.3" fill="url(#sc)"/><circle cx="607.6" cy="286.2" r="4.2" fill="url(#sc)"/><circle cx="588.0" cy="315.0" r="5.1" fill="url(#sc)"/><circle cx="588.7" cy="307.5" r="5.2" fill="url(#sc)"/><circle cx="591.9" cy="303.1" r="5.0" fill="url(#sc)"/><circle cx="554.7" cy="291.5" r="5.1" fill="url(#sc)"/><circle cx="551.5" cy="286.1" r="4.4" fill="url(#sc)"/><circle cx="543.8" cy="321.1" r="4.3" fill="url(#sc)"/><circle cx="564.6" cy="285.4" r="5.0" fill="url(#sc)"/><circle cx="534.2" cy="304.0" r="4.7" fill="url(#sc)"/><circle cx="560.4" cy="313.3" r="4.9" fill="url(#sc)"/><circle cx="552.2" cy="299.0" r="5.0" fill="url(#sc)"/><circle cx="565.4" cy="298.8" r="5.0" fill="url(#sc)"/><circle cx="541.1" cy="291.2" r="4.8" fill="url(#sc)"/><circle cx="608.2" cy="307.9" r="4.9" fill="url(#sc)"/><circle cx="541.8" cy="301.9" r="4.3" fill="url(#sc)"/><circle cx="561.6" cy="275.3" r="2.9" fill="url(#sg)"/><circle cx="568.6" cy="276.2" r="3.1" fill="url(#sg)"/><circle cx="578.0" cy="276.3" r="3.6" fill="url(#sg)"/><circle cx="593.4" cy="276.3" r="3.6" fill="url(#sg)"/><circle cx="601.1" cy="276.0" r="3.2" fill="url(#sg)"/><circle cx="557.1" cy="282.4" r="3.0" fill="url(#sg)"/><circle cx="567.1" cy="280.6" r="3.0" fill="url(#sg)"/><circle cx="574.7" cy="281.4" r="3.6" fill="url(#sg)"/><circle cx="583.1" cy="282.6" r="3.0" fill="url(#sg)"/><circle cx="597.8" cy="280.7" r="3.1" fill="url(#sg)"/><circle cx="605.4" cy="282.6" r="3.0" fill="url(#sg)"/><circle cx="546.5" cy="319.9" r="3.2" fill="url(#sg)"/><circle cx="554.5" cy="320.2" r="3.3" fill="url(#sg)"/><circle cx="571.3" cy="319.5" r="3.1" fill="url(#sg)"/><circle cx="600.6" cy="319.3" r="3.1" fill="url(#sg)"/><circle cx="541.3" cy="326.9" r="3.0" fill="url(#sg)"/><circle cx="549.4" cy="326.7" r="3.1" fill="url(#sg)"/><circle cx="557.3" cy="326.1" r="3.0" fill="url(#sg)"/><circle cx="567.2" cy="327.4" r="2.9" fill="url(#sg)"/><circle cx="573.9" cy="326.7" r="3.2" fill="url(#sg)"/><circle cx="583.3" cy="326.0" r="3.0" fill="url(#sg)"/><circle cx="590.2" cy="326.4" r="3.2" fill="url(#sg)"/><circle cx="598.5" cy="326.8" r="3.3" fill="url(#sg)"/><circle cx="548.0" cy="277.2" r="4.0" fill="url(#sg)"/><circle cx="565.0" cy="278.7" r="4.2" fill="url(#sg)"/><circle cx="607.0" cy="278.7" r="4.1" fill="url(#sg)"/><circle cx="600.7" cy="281.0" r="4.0" fill="url(#sg)"/><circle cx="588.3" cy="278.0" r="4.3" fill="url(#sg)"/><circle cx="556.0" cy="279.0" r="3.8" fill="url(#sg)"/><circle cx="541.7" cy="324.5" r="4.2" fill="url(#sg)"/><circle cx="560.4" cy="323.8" r="3.8" fill="url(#sg)"/><circle cx="572.0" cy="323.8" r="4.1" fill="url(#sg)"/><circle cx="591.4" cy="323.8" r="3.8" fill="url(#sg)"/><circle cx="607.0" cy="323.0" r="4.0" fill="url(#sg)"/><circle cx="582.0" cy="325.0" r="4.2" fill="url(#sg)"/><circle cx="552.0" cy="269.2" r="4.1" fill="url(#st)"/><circle cx="589.9" cy="327.6" r="5.1" fill="url(#st)"/><circle cx="581.6" cy="268.3" r="3.8" fill="url(#st)"/><circle cx="576.8" cy="260.6" r="4.1" fill="url(#sb)"/><circle cx="583.7" cy="263.2" r="4.8" fill="url(#sb)"/><circle cx="559.0" cy="275.5" r="4.0" fill="url(#sb)"/><circle cx="575.0" cy="335.0" r="4.5" fill="url(#sb)"/><circle cx="563.5" cy="271.7" r="4.7" fill="url(#st)"/><circle cx="604.2" cy="275.8" r="3.5" fill="url(#sb)"/><circle cx="596.1" cy="275.6" r="4.9" fill="url(#sb)"/><circle cx="565.0" cy="330.7" r="5.1" fill="url(#sb)"/><circle cx="576.2" cy="275.9" r="3.4" fill="url(#sb)"/><circle cx="549.4" cy="275.2" r="4.0" fill="url(#sb)"/><circle cx="599.2" cy="268.8" r="4.0" fill="url(#sb)"/><circle cx="550.4" cy="334.3" r="4.0" fill="url(#st)"/><circle cx="565.6" cy="275.8" r="3.5" fill="url(#sb)"/><circle cx="569.7" cy="338.5" r="4.8" fill="url(#sb)"/><circle cx="593.0" cy="325.6" r="3.8" fill="url(#sb)"/><circle cx="579.0" cy="269.4" r="4.5" fill="url(#sb)"/><circle cx="549.5" cy="272.5" r="4.7" fill="url(#st)"/><circle cx="589.8" cy="332.4" r="3.4" fill="url(#st)"/><circle cx="553.4" cy="267.9" r="4.8" fill="url(#sb)"/><circle cx="566.0" cy="266.0" r="4.5" fill="url(#sb)"/><circle cx="605.4" cy="330.7" r="4.9" fill="url(#sb)"/><circle cx="570.7" cy="267.7" r="3.6" fill="url(#st)"/><circle cx="597.6" cy="333.9" r="5.0" fill="url(#sb)"/><circle cx="557.3" cy="337.0" r="5.0" fill="url(#sb)"/><circle cx="562.5" cy="268.4" r="3.5" fill="url(#sb)"/><circle cx="566.2" cy="260.2" r="3.4" fill="url(#sb)"/><circle cx="602.3" cy="329.2" r="4.8" fill="url(#st)"/><circle cx="598.8" cy="332.9" r="3.4" fill="url(#st)"/><circle cx="596.1" cy="264.0" r="4.7" fill="url(#sb)"/><circle cx="585.2" cy="340.1" r="3.7" fill="url(#st)"/><circle cx="572.8" cy="264.8" r="4.5" fill="url(#sb)"/><circle cx="603.0" cy="271.7" r="4.8" fill="url(#st)"/><circle cx="582.1" cy="332.3" r="4.4" fill="url(#sb)"/><circle cx="549.5" cy="332.3" r="5.1" fill="url(#st)"/><circle cx="578.7" cy="333.1" r="3.9" fill="url(#sb)"/><circle cx="575.8" cy="341.1" r="3.9" fill="url(#sb)"/><circle cx="589.5" cy="269.2" r="3.6" fill="url(#st)"/><circle cx="559.4" cy="332.8" r="3.8" fill="url(#st)"/><circle cx="568.7" cy="332.4" r="3.7" fill="url(#st)"/><circle cx="588.3" cy="341.6" r="5.0" fill="url(#sb)"/><circle cx="565.6" cy="340.8" r="3.5" fill="url(#st)"/><circle cx="589.9" cy="271.7" r="4.7" fill="url(#sb)"/><circle cx="608.4" cy="268.0" r="3.5" fill="url(#st)"/></g><rect x="213" y="329" width="140" height="115" fill="#000"/><g filter="url(#mb)"><circle cx="254.8" cy="393.3" r="4.4" fill="url(#sc)"/><circle cx="250.5" cy="393.3" r="4.6" fill="url(#sc)"/><circle cx="314.3" cy="402.2" r="4.5" fill="url(#sc)"/><circle cx="278.0" cy="408.9" r="5.0" fill="url(#sc)"/><circle cx="271.9" cy="376.8" r="5.1" fill="url(#sc)"/><circle cx="326.3" cy="402.0" r="4.9" fill="url(#sc)"/><circle cx="328.9" cy="396.6" r="4.8" fill="url(#sc)"/><circle cx="277.2" cy="385.7" r="5.2" fill="url(#sc)"/><circle cx="323.2" cy="387.2" r="4.4" fill="url(#sc)"/><circle cx="284.6" cy="397.3" r="4.7" fill="url(#sc)"/><circle cx="307.2" cy="391.5" r="4.8" fill="url(#sc)"/><circle cx="262.4" cy="391.6" r="4.5" fill="url(#sc)"/><circle cx="314.3" cy="391.6" r="4.3" fill="url(#sc)"/><circle cx="258.4" cy="396.5" r="4.7" fill="url(#sc)"/><circle cx="293.5" cy="381.5" r="4.5" fill="url(#sc)"/><circle cx="275.5" cy="379.8" r="4.8" fill="url(#sc)"/><circle cx="268.1" cy="391.1" r="4.3" fill="url(#sc)"/><circle cx="282.3" cy="371.1" r="4.8" fill="url(#sc)"/><circle cx="249.8" cy="380.8" r="4.9" fill="url(#sc)"/><circle cx="302.6" cy="408.5" r="4.7" fill="url(#sc)"/><circle cx="284.6" cy="408.6" r="4.7" fill="url(#sc)"/><circle cx="280.3" cy="404.7" r="5.0" fill="url(#sc)"/><circle cx="304.7" cy="374.8" r="4.5" fill="url(#sc)"/><circle cx="319.2" cy="391.6" r="5.0" fill="url(#sc)"/><circle cx="273.7" cy="403.1" r="4.2" fill="url(#sc)"/><circle cx="286.4" cy="391.8" r="4.3" fill="url(#sc)"/><circle cx="301.1" cy="380.3" r="5.0" fill="url(#sc)"/><circle cx="298.5" cy="387.6" r="5.0" fill="url(#sc)"/><circle cx="275.1" cy="392.4" r="4.3" fill="url(#sc)"/><circle cx="270.6" cy="397.5" r="4.9" fill="url(#sc)"/><circle cx="298.6" cy="397.8" r="5.0" fill="url(#sc)"/><circle cx="291.1" cy="387.5" r="4.6" fill="url(#sc)"/><circle cx="321.0" cy="404.5" r="4.9" fill="url(#sc)"/><circle cx="259.5" cy="387.5" r="5.1" fill="url(#sc)"/><circle cx="258.6" cy="408.8" r="4.9" fill="url(#sc)"/><circle cx="300.1" cy="403.3" r="5.1" fill="url(#sc)"/><circle cx="285.3" cy="374.4" r="5.0" fill="url(#sc)"/><circle cx="315.7" cy="408.9" r="4.7" fill="url(#sc)"/><circle cx="309.7" cy="408.3" r="4.8" fill="url(#sc)"/><circle cx="245.4" cy="387.0" r="4.4" fill="url(#sc)"/><circle cx="253.1" cy="374.9" r="4.6" fill="url(#sc)"/><circle cx="306.2" cy="381.3" r="4.3" fill="url(#sc)"/><circle cx="308.8" cy="396.8" r="4.5" fill="url(#sc)"/><circle cx="309.2" cy="374.7" r="4.3" fill="url(#sc)"/><circle cx="270.7" cy="409.6" r="4.9" fill="url(#sc)"/><circle cx="296.7" cy="374.5" r="4.2" fill="url(#sc)"/><circle cx="297.3" cy="408.4" r="4.2" fill="url(#sc)"/><circle cx="303.5" cy="399.0" r="4.8" fill="url(#sc)"/><circle cx="258.9" cy="374.2" r="4.8" fill="url(#sc)"/><circle cx="277.5" cy="397.1" r="5.1" fill="url(#sc)"/><circle cx="307.0" cy="404.2" r="5.1" fill="url(#sc)"/><circle cx="324.4" cy="398.2" r="4.6" fill="url(#sc)"/><circle cx="302.9" cy="385.5" r="4.6" fill="url(#sc)"/><circle cx="326.4" cy="393.5" r="4.2" fill="url(#sc)"/><circle cx="264.2" cy="397.7" r="5.1" fill="url(#sc)"/><circle cx="285.6" cy="385.8" r="4.5" fill="url(#sc)"/><circle cx="328.8" cy="387.7" r="4.6" fill="url(#sc)"/><circle cx="276.8" cy="375.7" r="5.0" fill="url(#sc)"/><circle cx="265.2" cy="410.3" r="5.1" fill="url(#sc)"/><circle cx="268.1" cy="382.1" r="4.7" fill="url(#sc)"/><circle cx="280.0" cy="393.0" r="4.8" fill="url(#sc)"/><circle cx="261.7" cy="402.6" r="4.5" fill="url(#sc)"/><circle cx="281.2" cy="381.1" r="4.5" fill="url(#sc)"/><circle cx="267.6" cy="403.1" r="4.3" fill="url(#sc)"/><circle cx="264.8" cy="386.1" r="4.4" fill="url(#sc)"/><circle cx="291.5" cy="398.7" r="4.9" fill="url(#sc)"/><circle cx="247.5" cy="375.2" r="5.0" fill="url(#sc)"/><circle cx="272.3" cy="386.4" r="4.8" fill="url(#sc)"/><circle cx="317.2" cy="397.9" r="4.4" fill="url(#sc)"/><circle cx="299.3" cy="391.9" r="4.7" fill="url(#sc)"/><circle cx="293.0" cy="403.7" r="4.7" fill="url(#sc)"/><circle cx="289.7" cy="410.2" r="4.7" fill="url(#sc)"/><circle cx="295.0" cy="393.6" r="4.6" fill="url(#sc)"/><circle cx="264.8" cy="374.9" r="4.4" fill="url(#sc)"/><circle cx="321.7" cy="410.3" r="4.9" fill="url(#sc)"/><circle cx="292.1" cy="376.1" r="5.0" fill="url(#sc)"/><circle cx="317.2" cy="386.4" r="4.3" fill="url(#sc)"/><circle cx="311.2" cy="387.1" r="4.4" fill="url(#sc)"/><circle cx="288.5" cy="402.1" r="4.3" fill="url(#sc)"/><circle cx="257.0" cy="381.8" r="5.0" fill="url(#sc)"/><circle cx="263.6" cy="382.0" r="5.1" fill="url(#sc)"/><circle cx="287.5" cy="381.8" r="4.9" fill="url(#sc)"/><circle cx="253.0" cy="388.0" r="4.6" fill="url(#sc)"/><circle cx="257.3" cy="367.9" r="3.0" fill="url(#sg)"/><circle cx="264.8" cy="369.0" r="3.2" fill="url(#sg)"/><circle cx="274.0" cy="367.8" r="3.0" fill="url(#sg)"/><circle cx="283.1" cy="370.3" r="3.0" fill="url(#sg)"/><circle cx="290.4" cy="368.1" r="3.3" fill="url(#sg)"/><circle cx="297.1" cy="368.7" r="3.1" fill="url(#sg)"/><circle cx="306.4" cy="368.6" r="3.1" fill="url(#sg)"/><circle cx="290.3" cy="407.1" r="3.2" fill="url(#sg)"/><circle cx="307.1" cy="406.8" r="3.0" fill="url(#sg)"/><circle cx="261.1" cy="413.8" r="2.9" fill="url(#sg)"/><circle cx="268.6" cy="413.2" r="3.4" fill="url(#sg)"/><circle cx="279.5" cy="413.9" r="3.5" fill="url(#sg)"/><circle cx="286.5" cy="411.9" r="3.0" fill="url(#sg)"/><circle cx="293.0" cy="413.0" r="3.3" fill="url(#sg)"/><circle cx="302.5" cy="411.6" r="3.1" fill="url(#sg)"/><circle cx="308.6" cy="413.8" r="3.2" fill="url(#sg)"/><circle cx="317.2" cy="413.1" r="3.0" fill="url(#sg)"/><circle cx="256.0" cy="364.0" r="3.7" fill="url(#sg)"/><circle cx="265.0" cy="363.5" r="4.3" fill="url(#sg)"/><circle cx="274.0" cy="367.6" r="4.1" fill="url(#sg)"/><circle cx="284.0" cy="370.0" r="4.2" fill="url(#sg)"/><circle cx="292.0" cy="369.0" r="4.3" fill="url(#sg)"/><circle cx="300.0" cy="368.0" r="4.0" fill="url(#sg)"/><circle cx="307.0" cy="368.0" r="4.1" fill="url(#sg)"/><circle cx="258.0" cy="410.0" r="4.0" fill="url(#sg)"/><circle cx="269.0" cy="415.0" r="4.2" fill="url(#sg)"/><circle cx="290.0" cy="415.0" r="4.0" fill="url(#sg)"/><circle cx="303.0" cy="416.0" r="3.7" fill="url(#sg)"/><circle cx="316.0" cy="415.0" r="4.2" fill="url(#sg)"/><circle cx="280.0" cy="413.0" r="3.7" fill="url(#sg)"/><circle cx="303.3" cy="422.9" r="3.6" fill="url(#st)"/><circle cx="300.0" cy="423.0" r="5.0" fill="url(#sb)"/><circle cx="277.7" cy="351.5" r="3.5" fill="url(#st)"/><circle cx="266.0" cy="421.0" r="5.1" fill="url(#sb)"/><circle cx="286.0" cy="351.0" r="4.6" fill="url(#sb)"/><circle cx="262.0" cy="352.0" r="5.1" fill="url(#sb)"/><circle cx="292.2" cy="421.9" r="4.0" fill="url(#st)"/><circle cx="272.0" cy="357.0" r="4.7" fill="url(#sb)"/><circle cx="262.7" cy="353.7" r="4.8" fill="url(#st)"/><circle cx="290.0" cy="421.0" r="4.6" fill="url(#st)"/><circle cx="305.0" cy="352.0" r="4.5" fill="url(#sb)"/><circle cx="280.9" cy="344.2" r="3.5" fill="url(#sb)"/><circle cx="278.2" cy="344.8" r="4.7" fill="url(#sb)"/><circle cx="286.2" cy="351.3" r="3.6" fill="url(#st)"/><circle cx="284.0" cy="426.0" r="4.7" fill="url(#sb)"/><circle cx="294.5" cy="351.5" r="4.2" fill="url(#sb)"/><circle cx="281.4" cy="360.9" r="3.4" fill="url(#sb)"/><circle cx="313.6" cy="422.3" r="4.0" fill="url(#sb)"/><circle cx="308.0" cy="361.0" r="4.5" fill="url(#st)"/><circle cx="276.0" cy="424.0" r="4.7" fill="url(#sb)"/><circle cx="305.0" cy="350.3" r="3.5" fill="url(#st)"/><circle cx="278.0" cy="360.0" r="4.8" fill="url(#st)"/><circle cx="290.0" cy="362.0" r="5.2" fill="url(#sb)"/><circle cx="315.9" cy="415.4" r="3.4" fill="url(#sb)"/><circle cx="310.0" cy="426.0" r="5.0" fill="url(#sb)"/><circle cx="272.4" cy="344.2" r="4.2" fill="url(#sb)"/><circle cx="261.0" cy="418.0" r="4.5" fill="url(#st)"/><circle cx="316.0" cy="420.0" r="5.0" fill="url(#st)"/><circle cx="266.9" cy="352.7" r="3.4" fill="url(#sb)"/><circle cx="265.1" cy="421.6" r="3.5" fill="url(#sb)"/><circle cx="309.2" cy="359.5" r="3.8" fill="url(#sb)"/><circle cx="291.5" cy="358.7" r="3.4" fill="url(#sb)"/><circle cx="273.0" cy="423.1" r="3.9" fill="url(#st)"/><circle cx="298.5" cy="362.0" r="5.0" fill="url(#st)"/><circle cx="300.7" cy="359.2" r="3.9" fill="url(#st)"/><circle cx="271.5" cy="358.5" r="3.5" fill="url(#sb)"/><circle cx="308.0" cy="421.0" r="4.6" fill="url(#st)"/><circle cx="294.0" cy="428.0" r="4.9" fill="url(#sb)"/><circle cx="296.0" cy="356.0" r="4.9" fill="url(#sb)"/><circle cx="283.3" cy="421.1" r="3.8" fill="url(#st)"/></g><line x1="364" y1="131.5" x2="269.8" y2="172.4" stroke="#000" stroke-width="5.5"/><path d="M257,178L270.8,159.5L270.8,172.0L279.9,180.6Z" fill="#000"/><line x1="504" y1="293" x2="466.9" y2="306.5" stroke="#000" stroke-width="5.5"/><path d="M452.3,311.8L468.4,293.2L467.8,306.2L476.6,315.7Z" fill="#000"/><line x1="247.2" y1="329" x2="238.5" y2="264.5" stroke="#000" stroke-width="5.5"/><path d="M236.5,249.6L251.2,268.8L238.6,265.5L227.4,272.0Z" fill="#000"/></svg></body></html>
